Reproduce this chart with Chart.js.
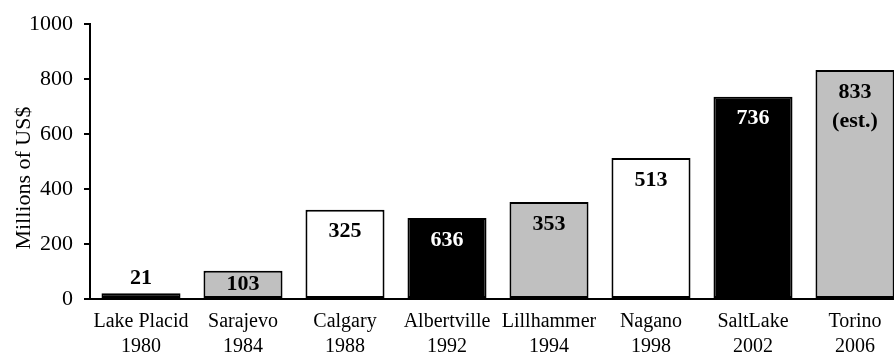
<!DOCTYPE html>
<html>
<head>
<meta charset="utf-8">
<script src="https://cdn.jsdelivr.net/npm/chart.js@4/dist/chart.umd.min.js"></script>
<style>
  html, body { margin: 0; padding: 0; background: #fff; overflow: hidden; }
  #wrap { width: 894px; height: 354px; overflow: hidden; }
</style>
</head>
<body>
<div id="wrap"><canvas id="canvas" width="906" height="354"></canvas></div>
<script>
// data
const games = [
  ["Lake Placid", "1980"],
  ["Sarajevo", "1984"],
  ["Calgary", "1988"],
  ["Albertville", "1992"],
  ["Lillhammer", "1994"],
  ["Nagano", "1998"],
  ["SaltLake", "2002"],
  ["Torino", "2006"]
];
const revenue = [21, 103, 325, 295, 353, 513, 736, 833];
const barLabels = ["21", "103", "325", "636", "353", "513", "736", ["833", "(est.)"]];
const yTicks = [0, 200, 400, 600, 800, 1000];

const fills = ["#000000", "#c0c0c0", "#ffffff"];
const serif = "'Liberation Serif', 'Times New Roman', serif";

// writes the value text onto each bar
const barText = {
  id: 'barText',
  afterDatasetsDraw: (chart) => {
    const {ctx} = chart;
    const meta = chart.getDatasetMeta(0);
    ctx.save();
    ctx.font = "bold 22px " + serif;
    ctx.textAlign = "center";
    ctx.textBaseline = "middle";
    meta.data.forEach((bar, i) => {
      let lines = barLabels[i];
      if (!Array.isArray(lines)) lines = [lines];
      const h = bar.base - bar.y;
      let y;
      if (h < 15) {
        y = bar.y - 15;
        ctx.fillStyle = "#000";
      } else {
        y = h < 45 ? (bar.y + bar.base) / 2 : bar.y + 22;
        ctx.fillStyle = fills[i % 3] == "#000000" ? "#fff" : "#000";
      }
      lines.forEach((t, k) => {
        ctx.fillText(t, bar.x, y + k * 29);
      });
    });
    ctx.restore();
  }
};

chart = new Chart(document.getElementById("canvas").getContext("2d"), {
  type: 'bar',
  data: {
    labels: games,
    datasets: [{
      data: revenue,
      backgroundColor: revenue.map((v, i) => fills[i % 3]),
      borderColor: "#000",
      borderWidth: 2,
      borderSkipped: false,
      categoryPercentage: 1,
      barPercentage: 0.775
    }]
  },
  options: {
    responsive: false,
    animation: false,
    layout: {
      padding: { top: 19, left: 0, right: 0, bottom: 0 }
    },
    plugins: {
      legend: { display: false },
      tooltip: { enabled: false }
    },
    scales: {
      x: {
        grid: { display: false, drawTicks: false },
        border: { display: true, color: "#000", width: 2 },
        ticks: {
          color: "#000",
          padding: 10,
          maxRotation: 0,
          autoSkip: false,
          font: { family: serif, size: 20, lineHeight: 1.25 }
        },
        afterFit: (scale) => { scale.height = 55; }
      },
      y: {
        min: 0,
        max: 1000,
        afterBuildTicks: (scale) => { scale.ticks = yTicks.map((v) => ({value: v})); },
        grid: { drawOnChartArea: false, color: "#000", lineWidth: 2, tickLength: 6 },
        border: { display: true, color: "#000", width: 2 },
        ticks: {
          color: "#000",
          padding: 11,
          callback: (v) => String(v),
          font: { family: serif, size: 22 }
        },
        title: {
          display: true,
          // trailing spaces push the title a little lower, as in the original
          text: "Millions of US$      ",
          color: "#000",
          padding: { top: 11, bottom: 0 },
          font: { family: serif, size: 22 }
        },
        afterFit: (scale) => { scale.width = 90; }
      }
    }
  },
  plugins: [barText]
});
</script>
</body>
</html>
